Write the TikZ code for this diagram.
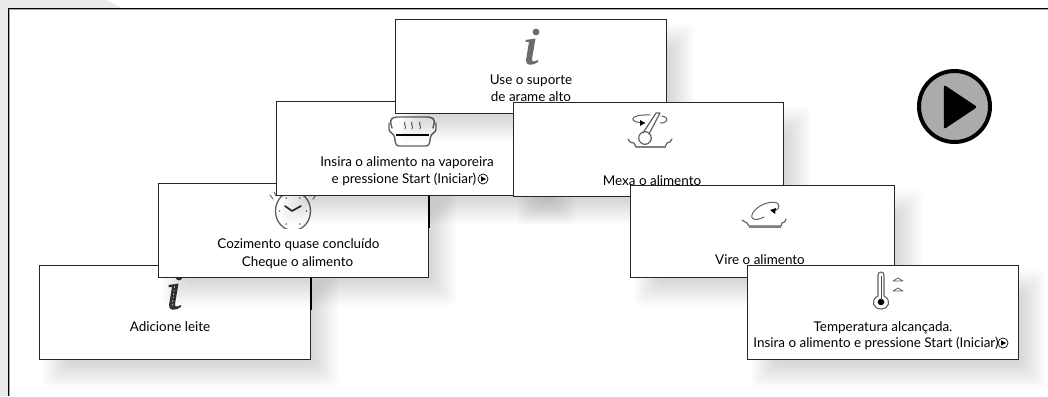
\documentclass[tikz,border=0pt]{standalone}
\usepackage{fontspec}
\setmainfont{Lato}
\usetikzlibrary{arrows.meta}
\newcommand{\softshade}[4]{%
  \foreach \k in {-12,-10,...,12}{%
    \fill[black,opacity=0.0115,rounded corners=6pt]
      ({#1+16+\k},{#2+17+\k}) rectangle ({#3+16-\k},{#4+17-\k});
  }}
\newcommand{\miniplay}[3]{%
  \node[miniring] (#1) at (#2,#3) {};
  \fill[black] (#2-1.8,#3-2.6) -- (#2+3,#3) -- (#2-1.8,#3+2.6) -- cycle;}
\newcommand{\infoicon}[3]{% base x, base y, colour
  \fill[#3] (#1+5,#2-33) circle (3.4);
  \fill[#3] (#1-5.5,#2-25) -- (#1+4.5,#2-26.5) -- (#1+1,#2-6) .. controls (#1+0.5,#2-3) and (#1+3,#2-3) .. (#1+7,#2-5)
     -- (#1+7,#2-3) .. controls (#1+2,#2+1) and (#1-6,#2+1) .. (#1-5,#2-5) -- (#1-2,#2-23) -- (#1-5.5,#2-23) -- cycle;}
\tikzset{
  panel/.style={draw=black!85,line width=0.9pt,fill=white,anchor=north west,inner sep=0pt},
  label/.style={anchor=base,inner sep=0pt,font=\fontsize{13.45}{15}\selectfont,text=black},
  miniring/.style={circle,draw=black,line width=0.7pt,minimum size=10pt,inner sep=0pt},
  ico/.style={draw=black!62,line width=1.2pt,line cap=round,line join=round},
  darkico/.style={draw=black!85,line width=1.6pt,line cap=round,line join=round}
}
\begin{document}
\begin{tikzpicture}[x=1pt,y=-1pt]
\useasboundingbox (0,0) rectangle (1048,396);
% outer page edge
\fill[black!8] (0,0) -- (107,0) -- (122,8) -- (8,8) -- (8,396) -- (0,396) -- cycle;
\draw[black!35,line width=0.8pt] (9,396) -- (9,9.5) -- (1048,9.5);
\draw[black,line width=1.3pt] (8.3,396) -- (8.3,8.5) -- (1048,8.5);

% --- Adicione leite
\softshade{39}{265}{310}{359}
\node[panel,minimum width=271pt,minimum height=94pt] (addbox) at (39,265) {};
\infoicon{174}{310}{black!80}
\draw[white,line width=0.6pt,dash pattern=on 1.5pt off 2pt] (175,283) -- (172,307);
\node[label] (addtext) at (170,331) {Adicione leite};

% --- Cozimento
\softshade{158}{183}{428}{277}
\draw[black,line width=1.4pt] (addbox.north east) ++(0,12) -- ++(0,33);
\node[panel,minimum width=270pt,minimum height=94pt] (clockbox) at (158,183) {};
\begin{scope}
  \clip (265,190) rectangle (320,228);
  \draw[draw=black!62,line width=1.3pt] (293,211) ellipse (17.5 and 19.5);
  \draw[darkico] (285,206) -- (292,211) -- (301,206);
  \draw[ico,line width=0.9pt] (273,199) -- (270,195) (276,196) -- (274,192) (313,199) -- (316,195) (310,196) -- (312,192);
  \foreach \a in {0,60,120,180,240,300}
    \fill[black!60] ({293+13.5*cos(\a)},{211+15*sin(\a)}) circle (0.9);
\end{scope}
\node[label] (cooktext1) at (298.5,248) {Cozimento quase concluído};
\node[label] (cooktext2) at (297.5,266) {Cheque o alimento};

% --- Insira na vaporeira
\softshade{276}{101}{547}{195}
\draw[black,line width=1.4pt] (clockbox.north east) ++(0,12) -- ++(0,33);
\node[panel,minimum width=271pt,minimum height=94pt] (steambox) at (276,101) {};
\draw[ico,line width=1.4pt,rounded corners=3pt] (392,128) -- (390,120) -- (394,117) -- (431,117) -- (435,120) -- (433,128);
\draw[ico,line width=1.4pt,rounded corners=3pt] (389,123) -- (389,132) -- (394,134) -- (396,146) -- (429,146) -- (431,134) -- (436,132) -- (436,123);
\draw[black,line width=1.8pt] (396,135) -- (429,135);
\foreach \sx in {405,412,420}
  \draw[ico,line width=0.9pt] (\sx,122) .. controls (\sx-2,124) and (\sx+2,126) .. (\sx,129);
\node[label] (steamtext1) at (407,166) {Insira o alimento na vaporeira};
\node[label] (steamtext2) at (404,183) {e pressione Start (Iniciar)};
\miniplay{steamplay}{483}{179}

% --- Use o suporte
\softshade{395}{19}{666}{113}
\node[panel,minimum width=271pt,minimum height=94pt] (wirebox) at (395,19) {};
\infoicon{531}{65}{black!58}
\node[label] (wiretext1) at (531,84) {Use o suporte};
\node[label] (wiretext2) at (531,101) {de arame alto};

% --- Mexa
\softshade{513}{102}{783}{196}
\node[panel,minimum width=270pt,minimum height=94pt] (stirbox) at (513,102) {};
\draw[ico] (628,139) .. controls (630,143) and (632,143) .. (634,143) -- (636,147) -- (665,147) -- (667,143) .. controls (670,143) and (671,141) .. (672,139);
\draw[black!50,line width=1.6pt] (636,147) -- (666,147);
\draw[ico] (645,138) circle (6.3);
\draw[ico] (643,133) -- (656,113) -- (660,113) -- (649,134);
\draw[ico,line width=1pt] (650,115) .. controls (628,114) and (628,123) .. (645,123);
\draw[ico,line width=1pt] (662,116) .. controls (670,118) and (668,123) .. (660,123);
\fill[black] (645,123) -- (640,120) -- (640,126) -- cycle;
\node[label] (stirtext) at (652,185) {Mexa o alimento};

% --- Vire
\softshade{630}{185}{894}{277}
\node[panel,minimum width=264pt,minimum height=92pt] (flipbox) at (630,185) {};
\draw[ico] (742,220) .. controls (744,222) and (746,222) .. (747,223) -- (749,226) -- (781,226) -- (782,223) .. controls (784,222) and (786,222) .. (786,219);
\draw[black!50,line width=1.4pt] (749,227) -- (781,227);
\draw[ico,line width=1pt] (764,217) .. controls (755,222) and (747,219) .. (755,210) .. controls (762,203) and (772,201) .. (777,203) .. controls (780,205) and (779,209) .. (776,210);
\fill[black] (770,210) -- (776,208) -- (775,214) -- cycle;
\node[label] (fliptext) at (760,264) {Vire o alimento};

% --- Temperatura
\softshade{747}{265}{1018}{359}
\node[panel,minimum width=271pt,minimum height=94pt] (tempbox) at (747,265) {};
\draw[ico,line width=1.1pt] (878,296) -- (878,275) .. controls (878,271) and (884,271) .. (884,275) -- (884,296)
  .. controls (892,300) and (889,309) .. (881,309) .. controls (873,309) and (870,300) .. (878,296) -- cycle;
\fill[black] (881,302) circle (3.3);
\draw[black!70,line width=0.8pt] (881,276) -- (881,300);
\draw[ico,line width=0.8pt] (893,281) -- (898,278) -- (903,281) -- cycle (893,291) -- (898,288) -- (903,291) -- cycle;
\node[label] (temptext1) at (883,331) {Temperatura alcançada.};
\node[label] (temptext2) at (876,347) {Insira o alimento e pressione Start (Iniciar)};
\miniplay{tempplay}{1003}{343}

% --- Play button
\node[circle,draw=black,line width=4pt,fill=black!33,minimum size=71pt,inner sep=0pt] (playbutton) at (954.5,106.5) {};
\fill[black,draw=black,line width=2.5pt,line join=round] (945,87) -- (975,107) -- (945,127) -- cycle;
\end{tikzpicture}
\end{document}
